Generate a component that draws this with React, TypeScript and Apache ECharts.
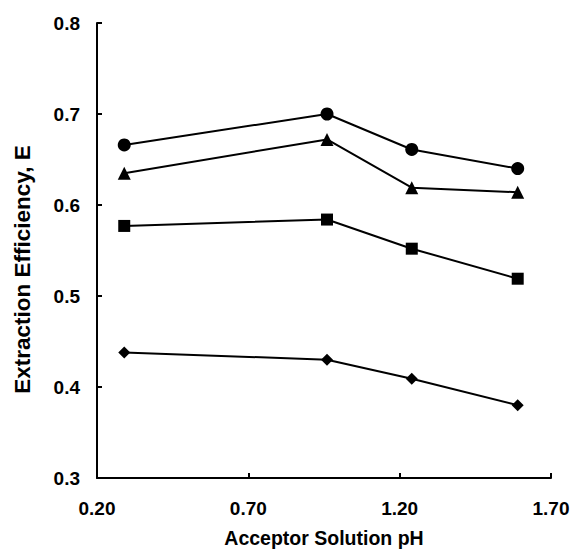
import React, { useEffect, useRef } from "react";
import * as echarts from "echarts";

const xValues = [0.29, 0.96, 1.24, 1.59];
const circleSeries = [0.666, 0.7, 0.661, 0.64];
const triangleSeries = [0.635, 0.672, 0.619, 0.614];
const squareSeries = [0.577, 0.584, 0.552, 0.519];
const diamondSeries = [0.438, 0.43, 0.409, 0.38];
const xTicks = [0.2, 0.7, 1.2, 1.7];

const font = "Liberation Sans, Arial, sans-serif";

export default function App() {
  const ref = useRef<HTMLDivElement>(null);
  useEffect(() => {
    const chart = echarts.init(ref.current!, null, { renderer: "svg" });
    const mk = (vals: number[], symbol: string, size: number) => ({
      type: "line",
      data: xValues.map((x, i) => [x, vals[i]]),
      symbol,
      symbolSize: size,
      showAllSymbol: true,
      lineStyle: { color: "#000", width: 2 },
      itemStyle: { color: "#000", borderWidth: 0 },
    });
    chart.setOption({
      animation: false,
      backgroundColor: "#fff",
      grid: { left: 97, right: 23, top: 23, bottom: 74, containLabel: false },
      xAxis: {
        type: "value",
        min: 0.2,
        max: 1.7,
        name: "Acceptor Solution pH",
        nameLocation: "middle",
        nameGap: 50,
        nameTextStyle: { fontFamily: font, fontWeight: "bold", fontSize: 19.5, color: "#000" },
        axisLine: { lineStyle: { color: "#000", width: 2 } },
        axisTick: { inside: true, length: 5, customValues: xTicks, lineStyle: { color: "#000", width: 2 } },
        axisLabel: {
          customValues: xTicks,
          formatter: (v: number) => v.toFixed(2),
          fontFamily: font,
          fontWeight: "bold",
          fontSize: 19,
          color: "#000",
          margin: 21,
        },
        splitLine: { show: false },
      },
      yAxis: {
        type: "value",
        min: 0.3,
        max: 0.8,
        interval: 0.1,
        name: "Extraction Efficiency, E",
        nameLocation: "middle",
        nameGap: 63,
        nameTextStyle: {
          fontFamily: font,
          fontWeight: "bold",
          fontSize: 22.5,
          color: "#000",
          padding: [0, 38, 0, 0],
        },
        axisLine: { show: true, lineStyle: { color: "#000", width: 2 } },
        axisTick: { show: true, inside: true, length: 5, lineStyle: { color: "#000", width: 2 } },
        axisLabel: {
          formatter: (v: number) => v.toFixed(1),
          fontFamily: font,
          fontWeight: "bold",
          fontSize: 19,
          color: "#000",
          margin: 17,
        },
        splitLine: { show: false },
      },
      series: [
        mk(circleSeries, "circle", 13),
        mk(triangleSeries, "triangle", 13),
        mk(squareSeries, "rect", 12),
        mk(diamondSeries, "diamond", 12),
      ],
    });
    return () => chart.dispose();
  }, []);
  return <div ref={ref} style={{ width: 574, height: 553, position: "absolute", left: 0, top: 0 }} />;
}
